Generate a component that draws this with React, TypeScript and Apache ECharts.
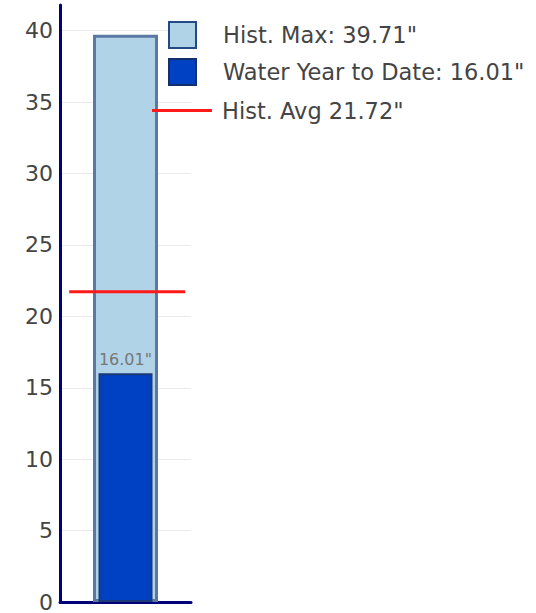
import React, { useEffect, useRef } from "react";
import * as echarts from "echarts";

const categories = [""];
const histMax = [39.71];
const waterYearToDate = [16.01];
const histAvg = [21.72];
const yTicks = { min: 0, max: 41.8, interval: 5 };

const FONT = 'Verdana, "DejaVu Sans", sans-serif';

const nameMax = `Hist. Max: ${histMax[0].toFixed(2)}"`;
const nameWytd = `Water Year to Date: ${waterYearToDate[0].toFixed(2)}"`;
const nameAvg = `Hist. Avg ${histAvg[0].toFixed(2)}"`;

export default function App() {
  const ref = useRef<HTMLDivElement>(null);
  useEffect(() => {
    if (!ref.current) return;
    const chart = echarts.init(ref.current, null, { renderer: "svg" });
    const legendText = (pad: number) => ({
      fontFamily: FONT,
      fontSize: 22.5,
      color: "#444",
      padding: [0, 0, 0, pad],
    });
    chart.setOption({
      animation: false,
      backgroundColor: "#fff",
      grid: { left: 60, top: 5, right: 345, bottom: 8, containLabel: false },
      legend: [
        {
          left: 168,
          top: 21,
          padding: 0,
          itemWidth: 27,
          itemHeight: 26,
          selectedMode: false,
          textStyle: legendText(22),
          data: [
            {
              name: nameMax,
              icon: "rect",
              itemStyle: { color: "#b0d3e8", borderColor: "#244a86", borderWidth: 2 },
            },
          ],
        },
        {
          left: 168,
          top: 58,
          padding: 0,
          itemWidth: 27,
          itemHeight: 26,
          selectedMode: false,
          textStyle: legendText(22),
          data: [
            {
              name: nameWytd,
              icon: "rect",
              itemStyle: { color: "#0041c4", borderColor: "#142f6c", borderWidth: 2 },
            },
          ],
        },
        {
          left: 152,
          top: 99,
          padding: 0,
          itemWidth: 60,
          itemHeight: 3,
          selectedMode: false,
          textStyle: legendText(5),
          data: [{ name: nameAvg, icon: "rect", itemStyle: { color: "#ff1a1a", borderWidth: 0 } }],
        },
      ],
      xAxis: [
        {
          type: "category",
          data: categories,
          axisLine: { show: true, onZero: false, lineStyle: { color: "#00007a", width: 3 } },
          axisTick: { show: false },
          axisLabel: { show: false },
          splitLine: { show: false },
        },
        {
          type: "category",
          data: categories,
          show: false,
        },
      ],
      yAxis: {
        type: "value",
        min: yTicks.min,
        max: yTicks.max,
        interval: yTicks.interval,
        axisLine: { show: true, lineStyle: { color: "#00007a", width: 3 } },
        axisTick: { show: false },
        axisLabel: {
          showMaxLabel: false,
          margin: 7,
          color: "#444",
          fontSize: 22,
          fontFamily: FONT,
        },
        splitLine: {
          show: true,
          showMinLine: false,
          showMaxLine: false,
          lineStyle: { color: "#eaeaea", width: 1 },
        },
      },
      series: [
        {
          name: nameMax,
          type: "bar",
          xAxisIndex: 0,
          data: histMax,
          barWidth: 65,
          itemStyle: { color: "#b0d3e8", borderColor: "#5a78a2", borderWidth: 3 },
          z: 2,
        },
        {
          name: nameWytd,
          type: "bar",
          xAxisIndex: 1,
          data: waterYearToDate,
          barWidth: 54,
          itemStyle: { color: "#0041c4", borderColor: "#1a3a78", borderWidth: 2 },
          label: {
            show: true,
            position: "top",
            distance: 6,
            formatter: (p: any) => `${p.value.toFixed(2)}"`,
            color: "#777",
            fontSize: 16,
            fontFamily: FONT,
          },
          z: 3,
        },
        {
          name: nameAvg,
          type: "custom",
          xAxisIndex: 0,
          data: histAvg.map((v, i) => [i, v]),
          z: 5,
          renderItem: (params: any, api: any) => {
            const c = api.coord([api.value(0), api.value(1)]);
            const bw = api.size([1, 0])[0];
            return {
              type: "line",
              shape: { x1: c[0] - bw * 0.43, y1: c[1], x2: c[0] + bw * 0.455, y2: c[1] },
              style: { stroke: "#ff1a1a", lineWidth: 3 },
            };
          },
        },
      ],
    });
    return () => chart.dispose();
  }, []);
  return (
    <div
      ref={ref}
      style={{ position: "fixed", left: 0, top: 0, width: 536, height: 613, background: "#fff" }}
    />
  );
}
